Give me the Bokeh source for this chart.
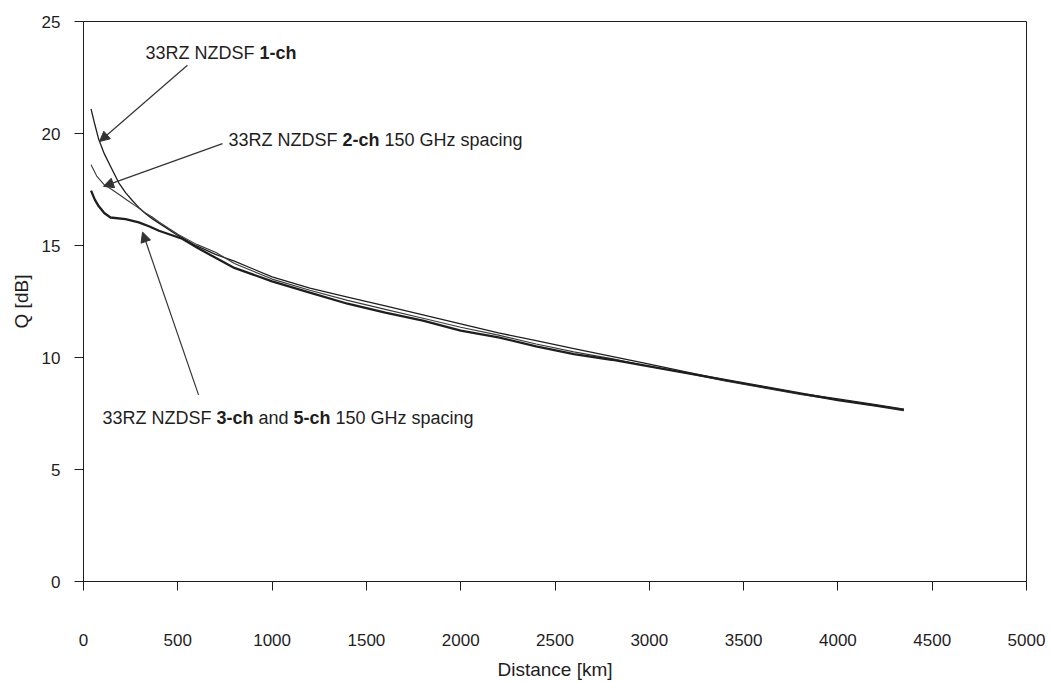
from bokeh.plotting import figure
from bokeh.models import Range1d, FixedTicker, Label, Arrow, NormalHead
from bokeh.embed import file_html
from bokeh.resources import INLINE

# ---- data ----
dist_1ch = [40, 60, 81, 110, 143, 187, 223, 260, 293, 330, 364, 400, 500, 600, 700, 800,
            900, 1000, 1200, 1400, 1600, 1800, 2000, 2200, 2400, 2600, 2800, 3000, 3200,
            3400, 3600, 3800, 4000, 4200, 4350]
q_1ch = [21.1, 20.4, 19.73, 19.1, 18.54, 17.8, 17.36, 17.0, 16.7, 16.42, 16.2, 16.0, 15.45,
         14.98, 14.6, 14.3, 13.95, 13.6, 13.1, 12.7, 12.3, 11.9, 11.5, 11.1, 10.75, 10.4,
         10.05, 9.7, 9.35, 9.0, 8.7, 8.4, 8.15, 7.9, 7.7]

dist_2ch = [40, 70, 108, 150, 187, 230, 276, 320, 364, 400, 500, 600, 700, 800, 900, 1000,
            1200, 1400, 1600, 1800, 2000, 2200, 2400, 2600, 2800, 3000, 3200, 3400,
            3600, 3800, 4000, 4200, 4350]
q_2ch = [18.6, 18.1, 17.73, 17.5, 17.29, 17.03, 16.77, 16.5, 16.27, 16.05, 15.5, 15.05,
         14.7, 14.2, 13.85, 13.5, 13.0, 12.55, 12.15, 11.75, 11.35, 11.0, 10.6, 10.25,
         9.95, 9.6, 9.3, 8.95, 8.65, 8.35, 8.1, 7.85, 7.68]

dist_35ch = [40, 60, 81, 110, 143, 223, 293, 350, 400, 523, 608, 700, 800, 900, 1000,
             1200, 1400, 1600, 1800, 2000, 2200, 2400, 2600, 2800, 3000, 3200, 3400,
             3600, 3800, 4000, 4200, 4350]
q_35ch = [17.45, 17.05, 16.75, 16.45, 16.25, 16.18, 16.03, 15.85, 15.66, 15.3, 14.88,
          14.45, 14.0, 13.7, 13.4, 12.9, 12.4, 12.0, 11.65, 11.2, 10.9, 10.5, 10.15, 9.9,
          9.6, 9.3, 9.0, 8.7, 8.4, 8.1, 7.85, 7.65]

x_ticks = [0, 500, 1000, 1500, 2000, 2500, 3000, 3500, 4000, 4500, 5000]
y_ticks = [0, 5, 10, 15, 20, 25]

FONT = "Liberation Sans"
INK = "#1e1e1e"

p = figure(width=1050, height=682, output_backend="svg", toolbar_location=None,
           x_range=Range1d(0, 5000), y_range=Range1d(0, 25),
           min_border_left=83, min_border_right=24, min_border_top=21, min_border_bottom=97)
p.background_fill_color = "white"
p.border_fill_color = "white"
p.outline_line_color = INK
p.outline_line_width = 1
p.grid.visible = False

for ax in (p.xaxis[0], p.yaxis[0]):
    ax.axis_line_color = INK
    ax.major_tick_line_color = INK
    ax.minor_tick_line_color = None
    ax.major_tick_in = 0
    ax.major_tick_out = 9
    ax.major_label_text_font = FONT
    ax.major_label_text_font_size = "17px"
    ax.major_label_text_color = INK
    ax.axis_label_text_font = FONT
    ax.axis_label_text_font_style = "normal"
    ax.axis_label_text_font_size = "19px"
    ax.axis_label_text_color = INK

p.xaxis.ticker = FixedTicker(ticks=x_ticks)
p.yaxis.ticker = FixedTicker(ticks=y_ticks)
p.xaxis.major_label_standoff = 43
p.yaxis.major_label_standoff = 14
p.xaxis.axis_label = "Distance [km]"
p.yaxis.axis_label = "Q [dB]"
p.xaxis.axis_label_standoff = 10
p.yaxis.axis_label_standoff = 7

p.line(dist_1ch, q_1ch, line_color=INK, line_width=1.3)
p.line(dist_2ch, q_2ch, line_color="#3a3a3a", line_width=1.1)
p.line(dist_35ch, q_35ch, line_color=INK, line_width=2.3)

# ---- annotations ----
TS = "18px"
SPACE = 5.0
WIDTHS = {"33RZ NZDSF": 109.0, "1-ch": 37.0, "2-ch": 37.0, "3-ch": 37.0,
          "5-ch": 37.0, "and": 30.0, "150 GHz spacing": 143.1}


def rich_label(x, y, parts):
    off = 0.0
    for i, (txt, bold) in enumerate(parts):
        if i > 0:
            off += SPACE
        p.add_layout(Label(x=x, y=y, x_offset=off, text=txt, text_font=FONT,
                           text_font_size=TS, text_color=INK,
                           text_font_style="bold" if bold else "normal",
                           text_baseline="middle", text_align="left"))
        off += WIDTHS[txt]


rich_label(329, 23.58, [("33RZ NZDSF", False), ("1-ch", True)])
rich_label(769, 19.73, [("33RZ NZDSF", False), ("2-ch", True), ("150 GHz spacing", False)])
rich_label(101, 7.31, [("33RZ NZDSF", False), ("3-ch", True), ("and", False),
                       ("5-ch", True), ("150 GHz spacing", False)])

arrows = [((551, 23.05), (85, 19.64)),
          ((737, 19.55), (106, 17.64)),
          ((610, 8.33), (313, 15.60))]
for (xs, ys), (xe, ye) in arrows:
    p.add_layout(Arrow(x_start=xs, y_start=ys, x_end=xe, y_end=ye,
                       line_color="#333333", line_width=1.2,
                       end=NormalHead(size=10, fill_color="#333333", line_color="#333333")))

open("out.html", "w").write(file_html(p, INLINE))
